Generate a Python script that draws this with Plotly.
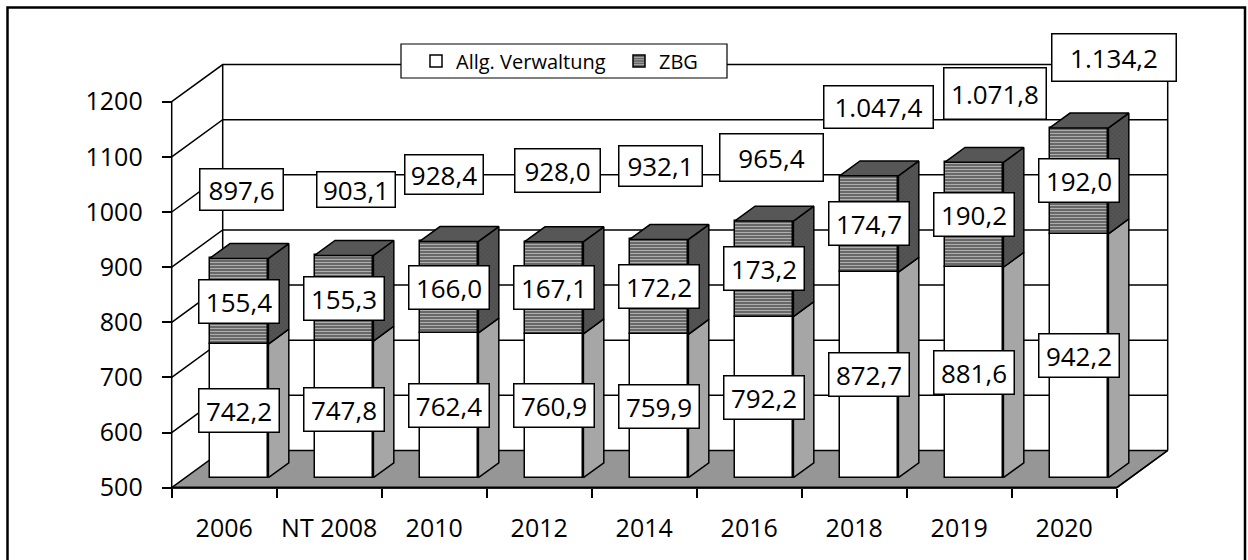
import plotly.graph_objects as go

# ---------------- data ----------------
categories = ["2006", "NT 2008", "2010", "2012", "2014", "2016", "2018", "2019", "2020"]
allg_verwaltung = [742.2, 747.8, 762.4, 760.9, 759.9, 792.2, 872.7, 881.6, 942.2]
zbg = [155.4, 155.3, 166.0, 167.1, 172.2, 173.2, 174.7, 190.2, 192.0]
series_names = ["Allg. Verwaltung", "ZBG"]
y_ticks = [500, 600, 700, 800, 900, 1000, 1100, 1200]

totals = [a + z for a, z in zip(allg_verwaltung, zbg)]


def de_fmt(v):
    s = f"{v:,.1f}"
    return s.replace(",", "X").replace(".", ",").replace("X", ".")


# ---------------- geometry / style ----------------
W, H = 1248, 560
FONT = "Open Sans"
OX, OY = 171.7, 487.7          # pixel of front-left floor corner
PX_CAT = 105.0                 # pixels per category
PX_VAL = 0.5514                # pixels per value unit
BASE = 500.0
WALL_DX_PX, WALL_DY_PX = 51.0, 37.2
DX = WALL_DX_PX / PX_CAT       # depth offset in category units
DY = WALL_DY_PX / PX_VAL       # depth offset in value units
BAR_W = 0.56
BAR_SHIFT = 0.01
D0, D1 = 0.27, 0.67            # front / back depth of bars
N = len(categories)
TOP = y_ticks[-1]

PLOT_L, PLOT_R, PLOT_T, PLOT_B = 150, 1200, 0, 500
x_range = [(PLOT_L - OX) / PX_CAT, (PLOT_R - OX) / PX_CAT]
y_range = [BASE - (PLOT_B - OY) / PX_VAL, BASE + (OY - PLOT_T) / PX_VAL]


def paper_x(px):
    return (px - PLOT_L) / (PLOT_R - PLOT_L)


def paper_y(py):
    return (PLOT_B - py) / (PLOT_B - PLOT_T)


LINE = "black"
FLOOR = "#969696"
SIDE_LOW = "#a6a6a6"
TOP_DARK = "#575757"
SIDE_DARK = "#4f4f4f"
ZBG_BG = "#686868"
ZBG_FG = "#adadad"

LABEL_FONT = 26
TICK_FONT = 25
LEGEND_FONT = 20

# total label placement: offset (px) from bar's front-top centre, and box size
total_label_offsets = [(2, -69), (12, -66), (-5, -67), (3, -71), (1, -73),
                       (7, -64), (9, -69), (21, -69), (35, -70)]
total_label_sizes = [(83, 41), (78, 35), (78, 39), (85, 43), (83, 40),
                     (103, 47), (109, 42), (102, 51), (124, 47)]

fig = go.Figure()

# ---------------- walls & floor ----------------
fx = [0, N, N + DX, DX, 0]
fy = [BASE, BASE, BASE + DY, BASE + DY, BASE]
fig.add_trace(go.Scatter(x=fx, y=fy, mode="lines", fill="toself", fillcolor=FLOOR,
                         line=dict(color=LINE, width=1.5), hoverinfo="skip",
                         showlegend=False, zorder=0))

gx, gy = [], []
for v in y_ticks[1:]:
    gx += [0, DX, N + DX, None]
    gy += [v, v + DY, v + DY, None]
# back verticals, front y-axis line, right floor diagonal
gx += [DX, DX, None, N + DX, N + DX, None, 0, 0, None, N, N + DX, None]
gy += [BASE + DY, TOP + DY, None, BASE + DY, TOP + DY, None, BASE, TOP, None,
       BASE, BASE + DY, None]
fig.add_trace(go.Scatter(x=gx, y=gy, mode="lines", line=dict(color=LINE, width=1.5),
                         hoverinfo="skip", showlegend=False, zorder=0))
fig.add_trace(go.Scatter(x=[0, N], y=[BASE, BASE], mode="lines",
                         line=dict(color=LINE, width=2.2), hoverinfo="skip",
                         showlegend=False, zorder=0))

# ---------------- bars: front faces ----------------
x_front = [i + 0.5 + BAR_SHIFT + D0 * DX for i in range(N)]
fig.add_trace(go.Bar(
    x=x_front, y=[a - BASE for a in allg_verwaltung], base=[BASE + D0 * DY] * N,
    width=BAR_W, name=series_names[0],
    marker=dict(color="white", line=dict(color=LINE, width=1.5)),
    hoverinfo="skip", zorder=1))
fig.add_trace(go.Bar(
    x=x_front, y=zbg, base=[a + D0 * DY for a in allg_verwaltung],
    width=BAR_W, name=series_names[1],
    marker=dict(color=ZBG_BG, line=dict(color=LINE, width=1.5),
                pattern=dict(shape="-", bgcolor=ZBG_BG, fgcolor=ZBG_FG,
                             size=3, solidity=0.35, fillmode="replace")),
    hoverinfo="skip", zorder=1))

# ---------------- bars: side & top faces ----------------
ddx = (D1 - D0) * DX
ddy = (D1 - D0) * DY


def side_poly(i, v0, v1):
    xr = i + 0.5 + BAR_SHIFT + BAR_W / 2 + D0 * DX
    return ([xr, xr, xr + ddx, xr + ddx, xr, None],
            [v0 + D0 * DY, v1 + D0 * DY, v1 + D1 * DY, v0 + D1 * DY, v0 + D0 * DY, None])


lx, ly, ux, uy, tx, ty = [], [], [], [], [], []
for i in range(N):
    a, t = allg_verwaltung[i], totals[i]
    px_, py_ = side_poly(i, BASE, a)
    lx += px_; ly += py_
    px_, py_ = side_poly(i, a, t)
    ux += px_; uy += py_
    xl = i + 0.5 + BAR_SHIFT - BAR_W / 2 + D0 * DX
    xr = xl + BAR_W
    tx += [xl, xr, xr + ddx, xl + ddx, xl, None]
    ty += [t + D0 * DY, t + D0 * DY, t + D1 * DY, t + D1 * DY, t + D0 * DY, None]

fig.add_trace(go.Scatter(x=lx, y=ly, mode="lines", fill="toself", fillcolor=SIDE_LOW,
                         line=dict(color=LINE, width=1.5), hoverinfo="skip",
                         showlegend=False, zorder=2))
fig.add_trace(go.Scatter(x=ux, y=uy, mode="lines", fill="toself", fillcolor=SIDE_DARK,
                         fillpattern=dict(shape="x", bgcolor=SIDE_DARK, fgcolor="#6a6a6a",
                                          size=3, solidity=0.3),
                         line=dict(color=LINE, width=1.5), hoverinfo="skip",
                         showlegend=False, zorder=2))
fig.add_trace(go.Scatter(x=tx, y=ty, mode="lines", fill="toself", fillcolor=TOP_DARK,
                         line=dict(color=LINE, width=1.5), hoverinfo="skip",
                         showlegend=False, zorder=2))

# ---------------- data labels ----------------
annotations = []


def box(x, y, text, w, h):
    annotations.append(dict(
        x=x, y=y, xref="x", yref="y", text=text, showarrow=False,
        font=dict(family=FONT, size=LABEL_FONT, color="black"),
        bgcolor="white", bordercolor="black", borderwidth=1.5, borderpad=0,
        width=w - 1, height=h - 1, align="center", valign="middle",
        xanchor="center", yanchor="middle"))


for i in range(N):
    cx = x_front[i]
    a, z, t = allg_verwaltung[i], zbg[i], totals[i]
    box(cx, (BASE + a) / 2 + D0 * DY, de_fmt(a), 80, 43)
    box(cx, a + z / 2 + D0 * DY, de_fmt(z), 80, 43)
    ox, oy = total_label_offsets[i]
    w, h = total_label_sizes[i]
    box(cx + ox / PX_CAT, t + D0 * DY - oy / PX_VAL, de_fmt(t), w, h)

# legend frame (px) — legend itself is transparent on top of it
LEG_L, LEG_T, LEG_R, LEG_B = 401, 44, 727, 78

fig.update_layout(
    width=W, height=H,
    margin=dict(l=PLOT_L, r=W - PLOT_R, t=PLOT_T, b=H - PLOT_B, pad=0),
    paper_bgcolor="white", plot_bgcolor="white",
    barmode="overlay", bargap=0,
    font=dict(family=FONT, size=TICK_FONT, color="black"),
    showlegend=True,
    legend=dict(orientation="h", x=paper_x(416), y=paper_y((LEG_T + LEG_B) / 2),
                xanchor="left", yanchor="middle",
                bgcolor="rgba(0,0,0,0)", borderwidth=0,
                font=dict(family=FONT, size=LEGEND_FONT, color="black"),
                itemwidth=30, entrywidth=158, traceorder="normal"),
    xaxis=dict(range=x_range, showgrid=False, zeroline=False, showline=False,
               tickmode="array", tickvals=[i + 0.5 for i in range(N)],
               ticktext=categories, ticks="", ticklabelstandoff=23,
               tickfont=dict(family=FONT, size=TICK_FONT, color="black"),
               anchor="free", position=paper_y(OY),
               minor=dict(tickmode="array", tickvals=list(range(N + 1)),
                          ticks="outside", ticklen=9, tickwidth=1.5, tickcolor="black",
                          showgrid=False),
               fixedrange=True),
    yaxis=dict(range=y_range, showgrid=False, zeroline=False, showline=False,
               tickmode="array", tickvals=y_ticks, ticktext=[str(v) for v in y_ticks],
               ticks="outside", ticklen=10, tickwidth=1.5, tickcolor="black",
               ticklabelstandoff=14,
               tickfont=dict(family=FONT, size=TICK_FONT, color="black"),
               anchor="free", position=paper_x(OX), fixedrange=True),
    annotations=annotations,
    shapes=[
        dict(type="rect", xref="paper", yref="paper",
             x0=paper_x(LEG_L), x1=paper_x(LEG_R), y0=paper_y(LEG_B), y1=paper_y(LEG_T),
             line=dict(color="black", width=1.2), fillcolor="white", layer="above"),
        dict(type="rect", xref="paper", yref="paper",
             x0=paper_x(7.5), x1=paper_x(1245), y0=paper_y(566), y1=paper_y(7.5),
             line=dict(color="black", width=2.5), fillcolor="rgba(0,0,0,0)",
             layer="above"),
    ],
)

fig.write_html(
    "out.html",
    config={"displayModeBar": False},
    post_script="document.body.style.margin='0';document.body.style.overflow='hidden';",
)
